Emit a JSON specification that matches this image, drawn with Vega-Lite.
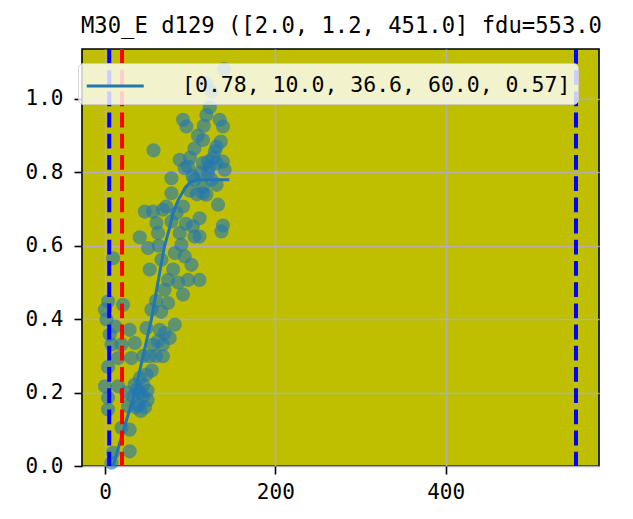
{
  "$schema": "https://vega.github.io/schema/vega-lite/v6.json",
  "width": 517,
  "height": 417,
  "autosize": {"type": "none"},
  "padding": {"left": 82, "top": 49, "right": 34, "bottom": 53},
  "background": "white",
  "title": {
    "text": "M30_E d129 ([2.0, 1.2, 451.0] fdu=553.0",
    "font": "DejaVu Sans Mono",
    "fontSize": 22.2,
    "fontWeight": "normal",
    "color": "black",
    "anchor": "middle",
    "frame": "group",
    "baseline": "bottom",
    "offset": 12,
    "dy": 25,
    "dx": 1
  },
  "config": {
    "view": {"fill": "#bfbf00", "stroke": "black", "strokeWidth": 1.6},
    "axis": {
      "domain": false,
      "ticks": true,
      "tickColor": "black",
      "tickSize": 8,
      "tickWidth": 1.6,
      "labelFont": "DejaVu Sans Mono",
      "labelFontSize": 21,
      "labelColor": "black",
      "labelPadding": 7,
      "grid": true,
      "gridColor": "#b0b0b0",
      "gridWidth": 1.6,
      "title": null,
      "zindex": 1
    }
  },
  "datasets": {
    "pts": [
      {"x": 139.7, "y": 1.081}, {"x": 119, "y": 1.043}, {"x": 125, "y": 1.02}, {"x": 123, "y": 0.977}, {"x": 119, "y": 0.956},
      {"x": 91.6, "y": 0.943}, {"x": 95.6, "y": 0.925}, {"x": 116, "y": 0.927}, {"x": 134.7, "y": 0.943}, {"x": 138.5, "y": 0.925},
      {"x": 109, "y": 0.9}, {"x": 115, "y": 0.888}, {"x": 136, "y": 0.884}, {"x": 57, "y": 0.86}, {"x": 105, "y": 0.865},
      {"x": 131, "y": 0.87}, {"x": 87.7, "y": 0.834}, {"x": 121, "y": 0.829}, {"x": 138.5, "y": 0.829}, {"x": 97.5, "y": 0.816},
      {"x": 123, "y": 0.816}, {"x": 78, "y": 0.784}, {"x": 103, "y": 0.789}, {"x": 115, "y": 0.761}, {"x": 131, "y": 0.766},
      {"x": 78, "y": 0.743}, {"x": 99.5, "y": 0.75}, {"x": 119, "y": 0.739}, {"x": 132.7, "y": 0.712}, {"x": 46.7, "y": 0.693},
      {"x": 56.4, "y": 0.693}, {"x": 68, "y": 0.698}, {"x": 84, "y": 0.689}, {"x": 111, "y": 0.675}, {"x": 138.5, "y": 0.655},
      {"x": 129, "y": 0.857}, {"x": 115, "y": 0.825}, {"x": 131, "y": 0.825}, {"x": 140.5, "y": 0.807}, {"x": 93.6, "y": 0.811},
      {"x": 105, "y": 0.78}, {"x": 121, "y": 0.798}, {"x": 115, "y": 0.743}, {"x": 72, "y": 0.707}, {"x": 91.6, "y": 0.707},
      {"x": 40.8, "y": 0.623}, {"x": 60.4, "y": 0.662}, {"x": 78, "y": 0.666}, {"x": 103, "y": 0.653}, {"x": 62.3, "y": 0.635},
      {"x": 87.7, "y": 0.635}, {"x": 111, "y": 0.625}, {"x": 105, "y": 0.625}, {"x": 136.7, "y": 0.639}, {"x": 50.6, "y": 0.594},
      {"x": 89.7, "y": 0.603}, {"x": 66.3, "y": 0.562}, {"x": 9.5, "y": 0.566}, {"x": 93.6, "y": 0.571}, {"x": 101.5, "y": 0.548},
      {"x": 52.5, "y": 0.535}, {"x": 80, "y": 0.535}, {"x": 111, "y": 0.507}, {"x": 74, "y": 0.507}, {"x": 97.5, "y": 0.507},
      {"x": 70, "y": 0.48}, {"x": 91.6, "y": 0.467}, {"x": 3.6, "y": 0.448}, {"x": 21.2, "y": 0.439}, {"x": 54.5, "y": 0.426},
      {"x": 74, "y": 0.444}, {"x": 0, "y": 0.426}, {"x": 1.8, "y": 0.399}, {"x": 5.6, "y": 0.358}, {"x": 29, "y": 0.371},
      {"x": 48.7, "y": 0.376}, {"x": 64.3, "y": 0.371}, {"x": 82, "y": 0.385}, {"x": 70, "y": 0.362}, {"x": 7.6, "y": 0.331},
      {"x": 19.4, "y": 0.331}, {"x": 35, "y": 0.335}, {"x": 68, "y": 0.331}, {"x": 76, "y": 0.349}, {"x": 15.4, "y": 0.294},
      {"x": 31, "y": 0.294}, {"x": 52.5, "y": 0.299}, {"x": 68, "y": 0.299}, {"x": 3.6, "y": 0.27}, {"x": 48.7, "y": 0.249},
      {"x": 0, "y": 0.217}, {"x": 15.4, "y": 0.217}, {"x": 35, "y": 0.222}, {"x": 44.7, "y": 0.19}, {"x": 3.6, "y": 0.186},
      {"x": 3.6, "y": 0.154}, {"x": 27, "y": 0.163}, {"x": 38.8, "y": 0.167}, {"x": 19.4, "y": 0.104}, {"x": 29, "y": 0.099},
      {"x": 9.5, "y": 0.036}, {"x": 29, "y": 0.04}, {"x": 7.6, "y": 0.009}, {"x": 40, "y": 0.2}, {"x": 50, "y": 0.205},
      {"x": 42, "y": 0.15}, {"x": 60, "y": 0.3}, {"x": 56, "y": 0.33},
      {"x": 33, "y": 0.19}, {"x": 38, "y": 0.21}, {"x": 45, "y": 0.22}, {"x": 50, "y": 0.18}, {"x": 36, "y": 0.16},
      {"x": 47, "y": 0.16}, {"x": 41, "y": 0.24}, {"x": 55, "y": 0.26}, {"x": 45, "y": 0.3}, {"x": 62, "y": 0.34},
      {"x": 25, "y": 0.2}, {"x": 12, "y": 0.38}, {"x": 60, "y": 0.45}, {"x": 66, "y": 0.42}, {"x": 86, "y": 0.5},
      {"x": 63, "y": 0.6}, {"x": 82, "y": 0.58}, {"x": 95, "y": 0.66}, {"x": 100, "y": 0.84}, {"x": 112, "y": 0.8},
      {"x": 125, "y": 0.78}, {"x": 108, "y": 0.74}, {"x": 127, "y": 0.84}
    ],
    "fit": [
      {"x": 9.5, "y": 0.0, "label": "[0.78, 10.0, 36.6, 60.0, 0.57]"},
      {"x": 22, "y": 0.1, "label": "[0.78, 10.0, 36.6, 60.0, 0.57]"},
      {"x": 35, "y": 0.2, "label": "[0.78, 10.0, 36.6, 60.0, 0.57]"},
      {"x": 54.5, "y": 0.4, "label": "[0.78, 10.0, 36.6, 60.0, 0.57]"},
      {"x": 66, "y": 0.55, "label": "[0.78, 10.0, 36.6, 60.0, 0.57]"},
      {"x": 70, "y": 0.6, "label": "[0.78, 10.0, 36.6, 60.0, 0.57]"},
      {"x": 76, "y": 0.65, "label": "[0.78, 10.0, 36.6, 60.0, 0.57]"},
      {"x": 80, "y": 0.69, "label": "[0.78, 10.0, 36.6, 60.0, 0.57]"},
      {"x": 86, "y": 0.725, "label": "[0.78, 10.0, 36.6, 60.0, 0.57]"},
      {"x": 94, "y": 0.757, "label": "[0.78, 10.0, 36.6, 60.0, 0.57]"},
      {"x": 100, "y": 0.773, "label": "[0.78, 10.0, 36.6, 60.0, 0.57]"},
      {"x": 108, "y": 0.78, "label": "[0.78, 10.0, 36.6, 60.0, 0.57]"},
      {"x": 146, "y": 0.78, "label": "[0.78, 10.0, 36.6, 60.0, 0.57]"}
    ],
    "vlines": [
      {"x": 5, "c": "#0000ff"},
      {"x": 20, "c": "#ff0000"},
      {"x": 553, "c": "#0000ff"}
    ]
  },
  "layer": [
    {
      "data": {"name": "pts"},
      "mark": {"type": "circle", "size": 200, "color": "#1f77b4", "opacity": 0.6},
      "encoding": {
        "x": {"field": "x", "type": "quantitative", "scale": {"domain": [-27, 580], "nice": false, "zero": false}, "axis": {"values": [0, 200, 400]}},
        "y": {"field": "y", "type": "quantitative", "scale": {"domain": [0, 1.136], "nice": false}, "axis": {"values": [0, 0.2, 0.4, 0.6, 0.8, 1.0], "format": ".1f", "labelPadding": 11}}
      }
    },
    {
      "data": {"name": "fit"},
      "mark": {"type": "line", "strokeWidth": 3, "clip": true},
      "encoding": {
        "x": {"field": "x", "type": "quantitative"},
        "y": {"field": "y", "type": "quantitative"},
        "color": {
          "field": "label",
          "type": "nominal",
          "scale": {"domain": ["[0.78, 10.0, 36.6, 60.0, 0.57]"], "range": ["#1f77b4"]},
          "legend": {
            "title": null,
            "orient": "none",
            "legendX": -4,
            "legendY": 14,
            "symbolType": "M-1,0H3",
            "symbolSize": 812,
            "symbolStrokeWidth": 3,
            "labelFont": "DejaVu Sans Mono",
            "labelFontSize": 21.5,
            "labelColor": "black",
            "labelLimit": 1000,
            "labelOffset": 65,
            "padding": 7,
            "cornerRadius": 5,
            "fillColor": "rgba(255,255,255,0.8)",
            "strokeColor": "rgba(204,204,204,0.8)"
          }
        }
      }
    },
    {
      "data": {"name": "vlines"},
      "mark": {"type": "rule", "strokeWidth": 4, "strokeDash": [14.8, 6.4]},
      "encoding": {
        "x": {"field": "x", "type": "quantitative"},
        "color": {"field": "c", "type": "nominal", "scale": null}
      }
    }
  ]
}
